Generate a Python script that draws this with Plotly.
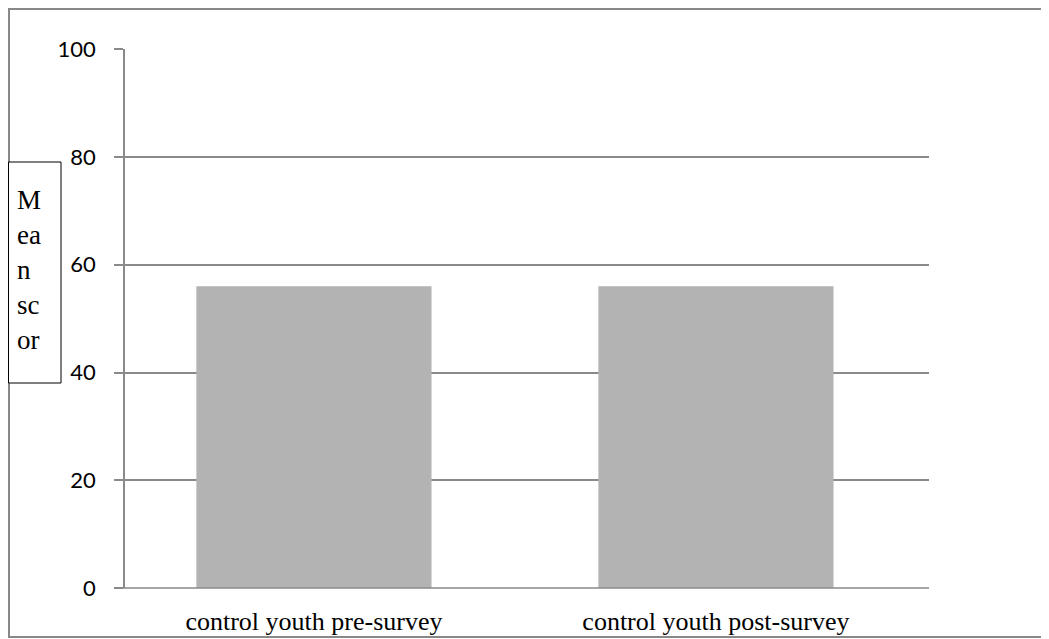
import plotly.graph_objects as go

categories = ["control youth pre-survey", "control youth post-survey"]
mean_scores = [56, 56]
y_ticks = [0, 20, 40, 60, 80, 100]
y_label_lines = ["M", "ea", "n", "sc", "or"]

OFF = 8  # page body margin in the browser
W, H = 1049 - OFF, 639 - OFF
L, T = 125 - OFF, 49 - OFF
R = W - (929 - OFF)
B = H - (588 - OFF)
pw, ph = W - L - R, H - T - B


def px(x):
    return (x - OFF - L) / pw


def py(y):
    return (H - B - (y - OFF)) / ph


fig = go.Figure()
fig.add_trace(go.Bar(
    x=categories,
    y=mean_scores,
    width=0.585,
    marker=dict(color="#b3b3b3", line=dict(width=0)),
    hoverinfo="x+y",
))

fig.update_layout(
    width=W, height=H,
    margin=dict(l=L, r=R, t=T, b=B, pad=0, autoexpand=False),
    paper_bgcolor="white",
    plot_bgcolor="white",
    showlegend=False,
    xaxis=dict(
        type="category",
        range=[-0.47, 1.53],
        showgrid=False,
        showline=False,
        ticks="",
        zeroline=False,
        automargin=False,
        tickfont=dict(family="Liberation Serif", size=26, color="black"),
        ticklabelstandoff=15,
    ),
    yaxis=dict(
        range=[0, 100.05],
        tickvals=y_ticks,
        ticktext=[str(v) for v in y_ticks],
        showgrid=True,
        gridcolor="#8a8a8a",
        gridwidth=1.5,
        showline=True,
        linecolor="#8a8a8a",
        linewidth=1.5,
        ticks="outside",
        ticklen=9,
        tickwidth=1.5,
        tickcolor="#8a8a8a",
        zeroline=False,
        automargin=False,
        tickfont=dict(family="Lato", size=22, color="black"),
        ticklabelstandoff=14,
    ),
    shapes=[
        # outer border (left, top, bottom visible)
        dict(type="rect", xref="paper", yref="paper",
             x0=px(9), x1=px(1070), y0=py(637), y1=py(9),
             line=dict(color="#888888", width=2), fillcolor="rgba(0,0,0,0)", layer="above"),
        # y label box
        dict(type="rect", xref="paper", yref="paper",
             x0=px(8.5), x1=px(61), y0=py(383), y1=py(162),
             line=dict(color="black", width=1), fillcolor="white", layer="above"),
        # x axis line at 0 with tick extension
        dict(type="line", xref="paper", yref="paper",
             x0=px(116), x1=1, y0=0, y1=0,
             line=dict(color="#8a8a8a", width=1.5), layer="above"),
    ],
    annotations=[
        dict(text="<br>".join(y_label_lines), xref="paper", yref="paper",
             x=px(15), y=py(270), xanchor="left", yanchor="middle",
             align="left", showarrow=False,
             font=dict(family="Liberation Serif", size=27, color="black")),
    ],
)

fig.write_html("out.html")
